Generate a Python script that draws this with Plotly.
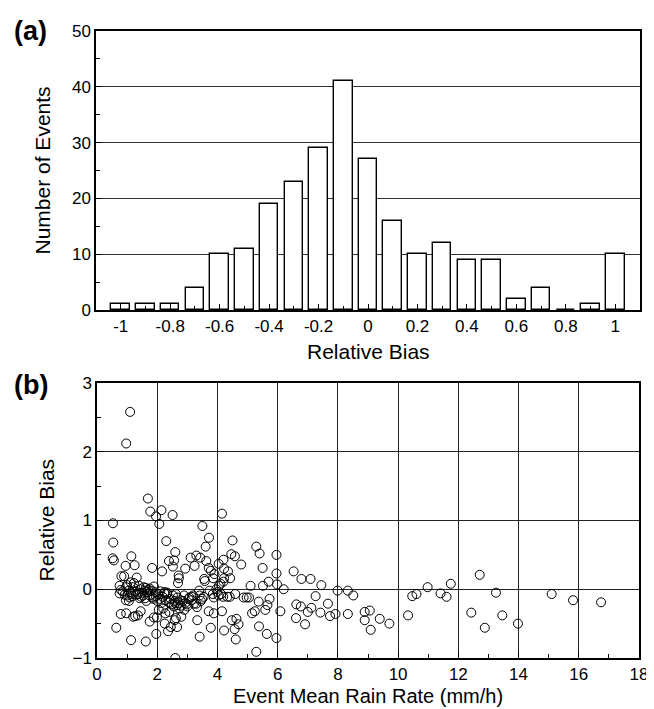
import plotly.graph_objects as go

# ---------------- (a) histogram data ----------------
bias_bins = [-1.0, -0.9, -0.8, -0.7, -0.6, -0.5, -0.4, -0.3, -0.2, -0.1, 0.0,
             0.1, 0.2, 0.3, 0.4, 0.5, 0.6, 0.7, 0.8, 0.9, 1.0]
event_counts = [1, 1, 1, 4, 10, 11, 19, 23, 29, 41, 27,
                16, 10, 12, 9, 9, 2, 4, 0, 1, 10]

# ---------------- (b) scatter data ----------------
rain_rate = [
    1.10, 0.97, 1.69, 1.77, 2.14, 1.96, 2.07, 2.51, 4.15, 0.53, 3.50, 0.54, 2.30, 3.72, 4.50, 3.61, 5.29,
    0.52, 0.56, 1.14, 0.95, 1.25, 1.83, 2.16, 2.60, 2.39, 2.56, 2.52, 2.93, 3.11, 3.30, 3.24, 3.43, 3.63,
    3.71, 3.78, 4.04, 4.20, 4.22, 4.35, 4.46, 4.58, 4.79, 5.40, 5.50, 5.96, 5.96, 6.53,
    0.81, 0.90, 1.32, 1.12, 1.23, 2.71, 2.72, 2.69, 3.56, 3.58, 3.90, 3.86, 4.22, 4.20, 4.42, 4.05, 4.10,
    5.10, 5.51, 5.70, 5.98, 6.20, 6.79, 7.09, 7.45, 0.75, 0.97, 1.20, 1.55, 1.89, 1.00, 1.40, 1.62, 3.39,
    0.79, 0.75, 1.05, 1.01, 1.12, 1.36, 1.45, 1.58, 1.53, 1.67, 1.75, 1.80, 1.92, 1.84, 2.03, 2.08, 2.25,
    2.32, 2.39, 2.52, 2.60, 2.67, 2.77, 2.78, 2.89, 2.93, 3.04, 3.13, 3.19, 3.30, 3.41, 3.49, 3.74, 3.85,
    3.96, 4.00, 4.04, 4.19, 4.33, 4.59, 4.87, 4.97, 5.05, 5.37,
    0.96, 1.06, 1.14, 1.30, 1.47, 1.64, 1.74, 1.87, 2.00, 2.14, 2.24, 2.33,
    0.85, 0.92, 1.08, 1.18, 1.27, 1.42, 1.50, 1.60, 1.70, 1.95, 2.10, 2.18, 2.28, 2.45, 2.55, 2.62, 2.70,
    2.85, 2.98, 3.07, 3.15, 3.22, 3.32, 3.45, 3.54, 3.88, 4.12, 4.41, 2.20, 2.48, 2.73, 2.58, 2.66,
    0.79, 0.97, 1.20, 1.27, 1.45, 1.36, 1.75, 1.99, 1.89, 2.25, 2.36, 2.45, 2.58, 2.62, 2.66, 2.27, 2.40,
    2.80, 3.33, 3.41, 3.78, 3.71, 3.88, 4.15, 4.22, 4.48, 4.57, 4.70, 4.61, 5.29, 2.60, 1.13, 1.62, 1.97,
    0.64, 5.38, 5.15, 5.24, 5.59, 5.66, 5.73, 6.09, 5.64, 5.96, 4.63, 6.62, 6.77, 6.61, 7.00, 7.12, 7.26,
    6.91, 2.05, 2.90, 3.00,
    7.67, 7.42, 7.74, 7.92, 7.99, 8.33, 8.51, 8.33, 8.89, 9.06, 8.89, 9.09, 9.39, 9.71, 10.33, 10.47,
    10.61, 10.98, 11.41, 11.61, 11.75, 12.43, 12.71, 12.88, 13.25, 13.46, 13.98, 15.10, 15.81, 16.74,
]
relative_bias = [
    2.58, 2.12, 1.32, 1.13, 1.15, 1.06, 0.95, 1.08, 1.10, 0.96, 0.92, 0.68, 0.70, 0.75, 0.71, 0.62, 0.62,
    0.45, 0.42, 0.48, 0.34, 0.35, 0.31, 0.26, 0.54, 0.41, 0.42, 0.33, 0.30, 0.46, 0.49, 0.34, 0.46, 0.41,
    0.31, 0.27, 0.37, 0.43, 0.30, 0.26, 0.51, 0.48, 0.36, 0.52, 0.31, 0.50, 0.23, 0.26,
    0.19, 0.19, 0.17, 0.10, 0.09, 0.20, 0.16, 0.09, 0.15, 0.12, 0.22, 0.16, 0.16, 0.11, 0.16, 0.05, 0.08,
    0.05, 0.05, 0.11, 0.07, 0.00, 0.15, 0.15, 0.06, 0.05, 0.03, 0.03, 0.03, 0.04, 0.06, 0.05, 0.02, -0.02,
    -0.01, -0.06, -0.02, -0.09, -0.04, -0.07, 0.00, -0.02, -0.09, -0.04, 0.01, -0.02, -0.04, -0.12, -0.07, -0.14, -0.04,
    -0.07, -0.19, -0.09, -0.20, -0.12, -0.16, -0.24, -0.09, -0.20, -0.14, -0.16, -0.09, -0.21, -0.09, -0.14, -0.02, -0.07,
    0.00, -0.04, -0.09, -0.11, -0.11, -0.07, -0.12, -0.12, -0.12, -0.18,
    -0.16, -0.17, -0.07, -0.08, -0.11, -0.17, -0.09, -0.14, -0.17, -0.20, -0.06, -0.05,
    -0.03, -0.08, -0.12, -0.10, -0.03, -0.13, -0.05, -0.13, -0.01, -0.10, -0.03, -0.11, -0.16, -0.14, -0.25, -0.07, -0.20,
    -0.17, -0.22, -0.12, -0.11, -0.21, -0.26, -0.17, -0.11, -0.12, -0.07, -0.11, -0.28, -0.22, -0.28, -0.17, -0.23,
    -0.36, -0.35, -0.40, -0.39, -0.32, -0.38, -0.47, -0.41, -0.41, -0.50, -0.61, -0.55, -0.45, -0.42, -0.55, -0.35, -0.33,
    -0.40, -0.45, -0.69, -0.56, -0.32, -0.35, -0.32, -0.60, -0.45, -0.58, -0.51, -0.73, -0.91, -1.00, -0.74, -0.76, -0.65,
    -0.56, -0.54, -0.35, -0.32, -0.30, -0.23, -0.14, -0.32, -0.65, -0.71, -0.43, -0.22, -0.25, -0.42, -0.33, -0.27, -0.10,
    -0.51, -0.30, -0.30, -0.25,
    -0.21, -0.34, -0.39, -0.36, -0.02, -0.02, -0.09, -0.36, -0.33, -0.31, -0.45, -0.59, -0.43, -0.50, -0.38, -0.10,
    -0.07, 0.03, -0.06, -0.11, 0.08, -0.34, 0.21, -0.56, -0.05, -0.38, -0.50, -0.07, -0.16, -0.19,
]

hist_ticks = [-1, -0.8, -0.6, -0.4, -0.2, 0, 0.2, 0.4, 0.6, 0.8, 1]
hist_ticklabels = ["-1", "-0.8", "-0.6", "-0.4", "-0.2", "0", "0.2", "0.4", "0.6", "0.8", "1"]

FONT = "Liberation Sans, Arial, sans-serif"
W, H = 654, 709
TICK_SIZE = 17
TITLE_SIZE = 20

# plot-area pixel boxes (left, right, top, bottom)
A_L, A_R, A_T, A_B = 88, 632, 23, 302
B_L, B_R, B_T, B_B = 89, 631, 375, 650

fig = go.Figure()

fig.add_trace(go.Bar(
    x=bias_bins, y=event_counts, width=0.075,
    marker=dict(color="white", line=dict(color="black", width=1.4)),
    xaxis="x", yaxis="y", showlegend=False,
))

fig.add_trace(go.Scatter(
    x=rain_rate, y=relative_bias, mode="markers",
    marker=dict(symbol="circle-open", size=9, color="black", line=dict(width=1)),
    xaxis="x2", yaxis="y2", showlegend=False,
))

axis_common = dict(
    showline=True, linecolor="black", linewidth=1.5, mirror=True,
    ticks="inside", ticklen=6, tickcolor="black", tickwidth=1,
    tickfont=dict(family=FONT, size=TICK_SIZE, color="black"),
    zeroline=False, automargin=False,
)

def px_x(p):
    return p / W

def px_y(p):
    return 1 - p / H

fig.update_layout(
    template="none",
    width=W, height=H,
    margin=dict(l=0, r=0, t=0, b=0),
    paper_bgcolor="white", plot_bgcolor="white",
    bargap=0,
    font=dict(family=FONT, color="black"),
    xaxis=dict(
        domain=[px_x(A_L), px_x(A_R)], anchor="y",
        range=[-1.1, 1.1], tickvals=hist_ticks, ticktext=hist_ticklabels,
        showgrid=False,
        minor=dict(dtick=0.1, tick0=0, ticks="inside", ticklen=4, tickcolor="black", showgrid=False),
        **axis_common,
    ),
    yaxis=dict(
        domain=[px_y(A_B), px_y(A_T)], anchor="x",
        range=[0, 50], dtick=10,
        showgrid=True, gridcolor="#333", gridwidth=1,
        minor=dict(dtick=5, ticks="inside", ticklen=4, tickcolor="black", showgrid=False),
        **axis_common,
    ),
    xaxis2=dict(
        domain=[px_x(B_L), px_x(B_R)], anchor="y2",
        range=[0, 18], dtick=2,
        showgrid=True, gridcolor="#222", gridwidth=1,
        minor=dict(dtick=1, ticks="inside", ticklen=4, tickcolor="black", showgrid=False),
        **axis_common,
    ),
    yaxis2=dict(
        domain=[px_y(B_B), px_y(B_T)], anchor="x2",
        range=[-1, 3], dtick=1,
        showgrid=True, gridcolor="#222", gridwidth=1,
        minor=dict(dtick=0.5, ticks="inside", ticklen=4, tickcolor="black", showgrid=False),
        **axis_common,
    ),
    annotations=[
        dict(text="<b>(a)</b>", x=px_x(4), y=px_y(23), xref="paper", yref="paper",
             xanchor="left", yanchor="middle", showarrow=False,
             font=dict(family=FONT, size=27, color="black")),
        dict(text="<b>(b)</b>", x=px_x(4), y=px_y(377), xref="paper", yref="paper",
             xanchor="left", yanchor="middle", showarrow=False,
             font=dict(family=FONT, size=27, color="black")),
        dict(text="Number of Events", x=px_x(34), y=px_y((A_T + A_B) / 2),
             xref="paper", yref="paper", xanchor="center", yanchor="middle",
             textangle=-90, showarrow=False, font=dict(family=FONT, size=21)),
        dict(text="Relative Bias", x=px_x((A_L + A_R) / 2), y=px_y(343),
             xref="paper", yref="paper", xanchor="center", yanchor="middle",
             showarrow=False, font=dict(family=FONT, size=21)),
        dict(text="Relative Bias", x=px_x(38), y=px_y((B_T + B_B) / 2),
             xref="paper", yref="paper", xanchor="center", yanchor="middle",
             textangle=-90, showarrow=False, font=dict(family=FONT, size=21)),
        dict(text="Event Mean Rain Rate (mm/h)", x=px_x((B_L + B_R) / 2), y=px_y(688),
             xref="paper", yref="paper", xanchor="center", yanchor="middle",
             showarrow=False, font=dict(family=FONT, size=TITLE_SIZE)),
    ],
)

fig.write_html("out.html")
